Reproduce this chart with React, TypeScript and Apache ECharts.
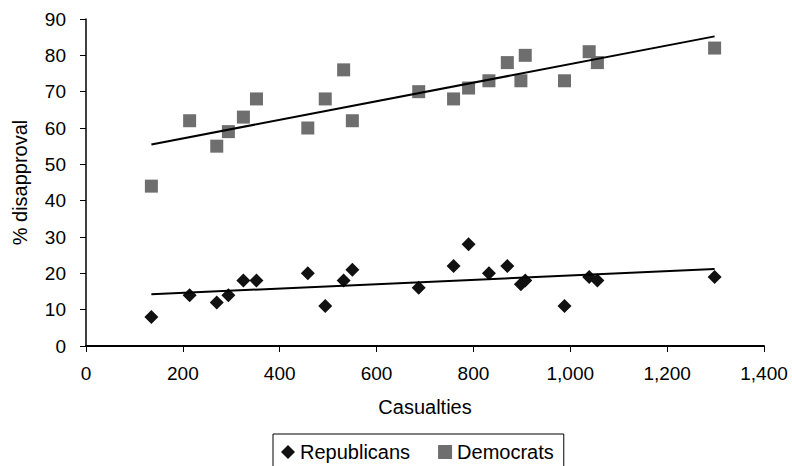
import React, { useEffect, useRef } from "react";
import * as echarts from "echarts";

const casualties = [135, 214, 270, 294, 325, 352, 458, 494, 532, 550, 687, 759, 790, 832, 870, 898, 907, 988, 1039, 1056, 1298];
const republicans = [8, 14, 12, 14, 18, 18, 20, 11, 18, 21, 16, 22, 28, 20, 22, 17, 18, 11, 19, 18, 19];
const democrats = [44, 62, 55, 59, 63, 68, 60, 68, 76, 62, 70, 68, 71, 73, 78, 73, 80, 73, 81, 78, 82];
const seriesNames = ["Republicans", "Democrats"];

function fitLine(xs: number[], ys: number[]): number[][] {
  const n = xs.length;
  const mx = xs.reduce((a, b) => a + b, 0) / n;
  const my = ys.reduce((a, b) => a + b, 0) / n;
  let sxy = 0;
  let sxx = 0;
  for (let i = 0; i < n; i++) {
    sxy += (xs[i] - mx) * (ys[i] - my);
    sxx += (xs[i] - mx) * (xs[i] - mx);
  }
  const b = sxy / sxx;
  const a = my - b * mx;
  const x0 = Math.min(...xs);
  const x1 = Math.max(...xs);
  return [
    [x0, a + b * x0],
    [x1, a + b * x1],
  ];
}

const FONT = "Liberation Sans";

export default function App() {
  const ref = useRef<HTMLDivElement>(null);
  useEffect(() => {
    if (!ref.current) return;
    const chart = echarts.init(ref.current, undefined, { renderer: "svg" });
    const repPts = casualties.map((x, i) => [x, republicans[i]]);
    const demPts = casualties.map((x, i) => [x, democrats[i]]);
    chart.setOption({
      animation: false,
      textStyle: { fontFamily: FONT, color: "#000" },
      grid: { left: 86, right: 28, top: 19, bottom: 120, containLabel: false },
      legend: {
        data: [
          { name: seriesNames[0], icon: "diamond" },
          { name: seriesNames[1], icon: "rect" },
        ],
        left: 273,
        top: 434,
        itemWidth: 14,
        itemHeight: 14,
        itemGap: 28,
        padding: [8, 10, 12, 8],
        borderColor: "#000",
        borderWidth: 1,
        textStyle: { fontFamily: FONT, fontSize: 20, color: "#000" },
      },
      xAxis: {
        type: "value",
        min: 0,
        max: 1400,
        interval: 200,
        name: "Casualties",
        nameLocation: "middle",
        nameGap: 51,
        nameTextStyle: { fontFamily: FONT, fontSize: 20, color: "#000" },
        axisLine: { show: true, onZero: false, lineStyle: { color: "#000", width: 2 } },
        axisTick: { show: true, inside: false, length: 6, lineStyle: { color: "#000", width: 1 } },
        axisLabel: {
          fontFamily: FONT,
          fontSize: 19,
          color: "#000",
          margin: 18,
          formatter: (v: number) => v.toLocaleString("en-US"),
        },
        splitLine: { show: false },
      },
      yAxis: {
        type: "value",
        min: 0,
        max: 90,
        interval: 10,
        name: "% disapproval",
        nameLocation: "middle",
        nameGap: 56,
        nameTextStyle: { fontFamily: FONT, fontSize: 20, color: "#000" },
        axisLine: { show: true, lineStyle: { color: "#000", width: 1.5 } },
        axisTick: { show: true, inside: false, length: 6, lineStyle: { color: "#000", width: 1 } },
        axisLabel: { fontFamily: FONT, fontSize: 19, color: "#000", margin: 20 },
        splitLine: { show: false },
      },
      series: [
        {
          name: seriesNames[0],
          type: "scatter",
          symbol: "diamond",
          symbolSize: 14,
          itemStyle: { color: "#111", opacity: 1 },
          data: repPts,
          z: 3,
        },
        {
          name: seriesNames[1],
          type: "scatter",
          symbol: "rect",
          symbolSize: 13,
          itemStyle: { color: "#6e6e6e", opacity: 1 },
          data: demPts,
          z: 3,
        },
        {
          name: "Republicans trend",
          type: "line",
          data: fitLine(casualties, republicans),
          showSymbol: false,
          symbol: "none",
          lineStyle: { color: "#000", width: 2 },
          silent: true,
          z: 4,
        },
        {
          name: "Democrats trend",
          type: "line",
          data: fitLine(casualties, democrats),
          showSymbol: false,
          symbol: "none",
          lineStyle: { color: "#000", width: 2 },
          silent: true,
          z: 4,
        },
      ],
    });
    return () => chart.dispose();
  }, []);
  return <div ref={ref} style={{ width: 792, height: 466, position: "absolute", left: 0, top: 0 }} />;
}
